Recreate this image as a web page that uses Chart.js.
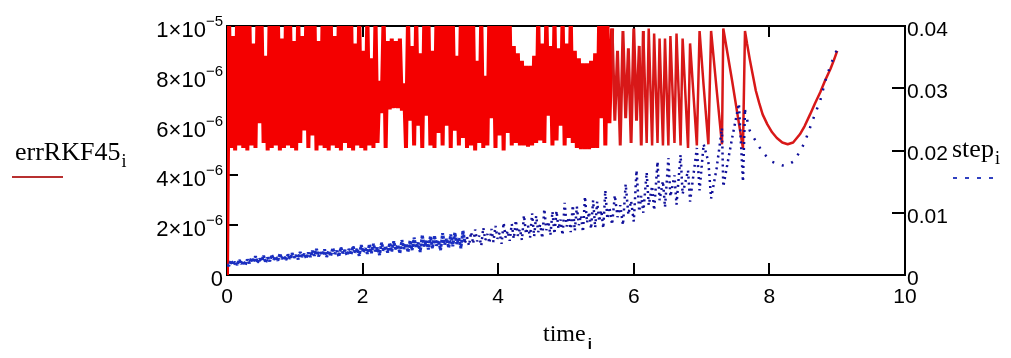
<!DOCTYPE html>
<html><head><meta charset="utf-8">
<script src="https://cdn.jsdelivr.net/npm/chart.js@4.4.1/dist/chart.umd.min.js"></script>
<style>html,body{margin:0;padding:0;background:#fff;overflow:hidden}canvas{display:block}</style>
</head><body><canvas id="c" width="1011" height="358"></canvas>
<script>
// ---- data ----
const timeVals = [0,
0.03,0.06,0.09,0.12,0.15,0.18,0.21,0.24,0.27,0.30,
0.33,0.36,0.39,0.42,0.45,0.48,0.51,0.54,0.57,0.60,
0.63,0.66,0.69,0.72,0.75,0.78,0.81,0.84,0.87,0.90,
0.93,0.96,0.99,1.02,1.05,1.08,1.11,1.14,1.17,1.20,
1.23,1.26,1.29,1.32,1.35,1.38,1.41,1.44,1.47,1.50,
1.53,1.56,1.59,1.62,1.65,1.68,1.71,1.74,1.77,1.80,
1.83,1.86,1.89,1.92,1.95,1.98,2.01,2.04,2.07,2.10,
2.13,2.16,2.19,2.22,2.25,2.28,2.31,2.34,2.37,2.40,
2.43,2.46,2.49,2.52,2.55,2.58,2.61,2.64,2.67,2.70,
2.73,2.76,2.79,2.82,2.85,2.88,2.91,2.94,2.97,3.00,
3.03,3.06,3.09,3.12,3.15,3.18,3.21,3.24,3.27,3.30,
3.33,3.36,3.39,3.42,3.45,3.48,3.51,3.54,3.57,3.60,
3.63,3.66,3.69,3.72,3.75,3.78,3.81,3.84,3.87,3.90,
3.93,3.96,3.99,4.02,4.05,4.08,4.11,4.14,4.17,4.20,
4.23,4.26,4.29,4.32,4.35,4.38,4.41,4.44,4.47,4.50,
4.53,4.56,4.59,4.62,4.65,4.68,4.71,4.74,4.77,4.80,
4.83,4.86,4.89,4.92,4.95,4.98,5.01,5.04,5.07,5.10,
5.13,5.16,5.19,5.22,5.25,5.28,5.31,5.34,5.37,5.40,
5.43,5.46,5.49,5.52,5.55,5.58,5.61,5.64,
5.68,5.72,5.76,5.80,5.84,5.88,5.92,5.96,6.00,6.04,6.08,6.11,
6.14,6.19,6.22,6.27,6.30,6.35,6.38,6.43,6.46,6.51,6.54,6.60,6.63,6.69,6.72,6.80,6.83,6.93,6.97,7.03,7.10,7.14,7.22,7.30,7.32,7.45,7.55,7.61,7.64,
7.67,7.71,7.75,7.80,7.85,7.90,7.97,8.04,8.11,8.19,8.27,8.35,8.45,8.52,8.60,8.67,8.75,8.82,8.90,8.95,9.00];

const errRKF45Vals = [0,
10.4e-6,5.1e-6,9.6e-6,5.0e-6,10.5e-6,5.2e-6,10.3e-6,5.1e-6,10.6e-6,5.0e-6,
10.4e-6,5.2e-6,9.3e-6,5.1e-6,10.5e-6,6.1e-6,10.3e-6,5.3e-6,8.8e-6,5.0e-6,
10.6e-6,5.1e-6,10.2e-6,5.2e-6,10.5e-6,5.0e-6,9.5e-6,5.1e-6,10.4e-6,5.2e-6,
10.3e-6,5.1e-6,9.4e-6,5.0e-6,10.5e-6,5.3e-6,9.6e-6,5.8e-6,10.4e-6,5.1e-6,
10.2e-6,5.6e-6,10.5e-6,5.0e-6,9.4e-6,5.2e-6,10.3e-6,5.1e-6,10.6e-6,5.0e-6,
10.4e-6,5.2e-6,9.6e-6,5.1e-6,10.5e-6,5.0e-6,10.2e-6,5.3e-6,10.4e-6,5.1e-6,
10.6e-6,5.0e-6,9.3e-6,5.2e-6,10.4e-6,5.1e-6,9.0e-6,5.0e-6,10.5e-6,5.2e-6,
8.7e-6,5.1e-6,10.3e-6,5.3e-6,7.8e-6,6.5e-6,10.4e-6,5.1e-6,9.4e-6,6.65e-6,
9.5e-6,6.7e-6,9.4e-6,6.7e-6,9.5e-6,6.6e-6,7.7e-6,5.1e-6,10.3e-6,6.2e-6,
9.2e-6,5.2e-6,10.4e-6,6.0e-6,8.9e-6,5.1e-6,10.3e-6,6.4e-6,10.5e-6,5.2e-6,
9.0e-6,5.1e-6,10.4e-6,5.7e-6,10.2e-6,5.2e-6,10.5e-6,6.0e-6,10.3e-6,5.1e-6,
10.4e-6,5.8e-6,8.8e-6,5.2e-6,10.5e-6,5.5e-6,10.3e-6,5.1e-6,10.4e-6,5.2e-6,
10.2e-6,5.0e-6,8.6e-6,5.3e-6,10.4e-6,5.1e-6,8.0e-6,5.2e-6,10.5e-6,6.3e-6,
10.3e-6,5.1e-6,10.4e-6,5.6e-6,10.5e-6,5.0e-6,10.3e-6,5.7e-6,10.2e-6,5.2e-6,
9.2e-6,5.3e-6,8.9e-6,5.2e-6,8.6e-6,5.2e-6,8.4e-6,5.15e-6,8.4e-6,5.2e-6,
8.8e-6,5.3e-6,10.4e-6,5.4e-6,9.3e-6,5.3e-6,10.5e-6,6.4e-6,9.2e-6,5.2e-6,
10.3e-6,5.4e-6,9.1e-6,6.0e-6,10.4e-6,5.2e-6,9.3e-6,5.5e-6,10.4e-6,5.3e-6,
9.0e-6,5.1e-6,8.7e-6,5.05e-6,8.5e-6,5.05e-6,8.5e-6,5.05e-6,8.6e-6,5.1e-6,
8.9e-6,5.1e-6,10.4e-6,6.3e-6,10.5e-6,5.2e-6,10.3e-6,6.1e-6,
9.9e-6,6.2e-6,9.0e-6,5.2e-6,9.8e-6,6.3e-6,9.1e-6,5.3e-6,9.9e-6,6.2e-6,9.2e-6,5.2e-6,
9.8e-6,5.3e-6,9.9e-6,5.2e-6,9.7e-6,5.3e-6,9.5e-6,5.2e-6,9.5e-6,5.2e-6,9.6e-6,5.3e-6,9.7e-6,5.2e-6,9.5e-6,5.1e-6,9.3e-6,5.2e-6,9.8e-6,7.6e-6,5.25e-6,9.8e-6,7.5e-6,5.25e-6,9.9e-6,7.8e-6,6.1e-6,5.1e-6,9.8e-6,
9.3e-6,8.67e-6,8.1e-6,7.4e-6,6.9e-6,6.45e-6,6.05e-6,5.73e-6,5.5e-6,5.32e-6,5.25e-6,5.32e-6,5.65e-6,5.98e-6,6.45e-6,6.88e-6,7.34e-6,7.8e-6,8.27e-6,8.62e-6,9.0e-6];

const stepVals = [1.6e-3,
1.5e-3,2.3e-3,1.7e-3,2.1e-3,1.6e-3,2.4e-3,1.8e-3,2.2e-3,1.6e-3,2.5e-3,
1.9e-3,2.7e-3,2.1e-3,3.0e-3,2.0e-3,2.6e-3,2.3e-3,3.1e-3,2.0e-3,2.8e-3,
2.2e-3,3.2e-3,2.5e-3,2.9e-3,2.3e-3,3.4e-3,2.6e-3,3.0e-3,2.4e-3,3.3e-3,
2.6e-3,3.5e-3,2.8e-3,3.2e-3,2.5e-3,3.7e-3,2.9e-3,3.4e-3,2.7e-3,3.6e-3,
2.9e-3,3.9e-3,3.1e-3,4.2e-3,3.0e-3,3.6e-3,3.3e-3,4.1e-3,2.9e-3,3.8e-3,
3.1e-3,4.3e-3,3.4e-3,3.9e-3,3.0e-3,4.4e-3,3.5e-3,4.0e-3,3.2e-3,4.2e-3,
3.3e-3,4.6e-3,3.6e-3,4.2e-3,3.1e-3,4.8e-3,3.7e-3,4.3e-3,3.4e-3,4.9e-3,
3.5e-3,5.0e-3,3.8e-3,4.4e-3,3.2e-3,5.2e-3,3.9e-3,4.6e-3,3.6e-3,5.1e-3,
3.8e-3,5.4e-3,4.1e-3,4.8e-3,3.5e-3,5.6e-3,4.2e-3,5.0e-3,3.7e-3,5.5e-3,
4.0e-3,6.0e-3,4.4e-3,5.2e-3,3.7e-3,6.4e-3,4.6e-3,5.5e-3,4.1e-3,6.2e-3,
4.3e-3,6.3e-3,4.7e-3,5.5e-3,4.0e-3,6.7e-3,4.9e-3,5.8e-3,4.4e-3,6.5e-3,
4.6e-3,6.8e-3,5.0e-3,5.9e-3,4.3e-3,7.1e-3,5.2e-3,6.1e-3,4.7e-3,6.9e-3,
5.0e-3,7.3e-3,5.4e-3,6.3e-3,4.7e-3,7.6e-3,5.6e-3,6.6e-3,5.1e-3,7.4e-3,
5.3e-3,7.9e-3,5.8e-3,6.8e-3,5.0e-3,8.4e-3,6.0e-3,7.1e-3,5.5e-3,8.2e-3,
5.8e-3,8.8e-3,6.3e-3,7.4e-3,5.6e-3,9.6e-3,6.6e-3,7.9e-3,6.0e-3,9.9e-3,
6.2e-3,9.5e-3,6.9e-3,8.1e-3,5.9e-3,10.6e-3,7.2e-3,8.6e-3,6.4e-3,10.2e-3,
6.6e-3,10.3e-3,7.4e-3,8.9e-3,6.4e-3,11.6e-3,7.8e-3,9.3e-3,6.9e-3,11.2e-3,
7.1e-3,11.0e-3,8.0e-3,9.6e-3,6.9e-3,12.6e-3,8.4e-3,10.1e-3,7.4e-3,12.0e-3,
7.6e-3,11.8e-3,8.6e-3,10.4e-3,7.5e-3,13.6e-3,9.0e-3,10.9e-3,
8.1e-3,12.8e-3,9.3e-3,11.2e-3,8.0e-3,14.6e-3,9.7e-3,11.9e-3,8.6e-3,16.8e-3,10.2e-3,12.7e-3,
10.0e-3,16.5e-3,11.2e-3,14.3e-3,10.4e-3,18.2e-3,12.0e-3,15.1e-3,10.9e-3,18.8e-3,12.6e-3,16.0e-3,11.3e-3,19.3e-3,13.0e-3,16.8e-3,11.8e-3,20.4e-3,13.6e-3,21.0e-3,18.2e-3,12.3e-3,17.0e-3,23.6e-3,14.2e-3,22.0e-3,27.5e-3,15.0e-3,26.5e-3,
25.0e-3,23.2e-3,22.4e-3,21.5e-3,20.6e-3,19.7e-3,18.9e-3,18.2e-3,17.9e-3,17.6e-3,17.7e-3,18.2e-3,19.8e-3,21.3e-3,23.7e-3,25.8e-3,28.0e-3,31.0e-3,33.7e-3,35.0e-3,36.3e-3];

// axis ticks and labels
const xTickVals = [0, 2, 4, 6, 8, 10];
const leftTickVals = [0, 2e-6, 4e-6, 6e-6, 8e-6, 1e-5];
const leftTickMantissa = ['0', '2', '4', '6', '8', '1'];
const leftTickExponent = ['', '\u22126', '\u22126', '\u22126', '\u22126', '\u22125'];
const rightTickVals = [0, 0.01, 0.02, 0.03, 0.04];
const rightTickLabels = ['0', '0.01', '0.02', '0.03', '0.04'];

const SANS = '"Liberation Sans", Arial, sans-serif';
const SERIF = '"Liberation Serif", "Times New Roman", serif';

const errPts = timeVals.map((t, i) => ({x: t, y: errRKF45Vals[i]}));
const stepPts = timeVals.map((t, i) => ({x: t, y: stepVals[i]}));

const bgPlugin = {
  id: 'bg',
  beforeDraw(c) {
    const ctx = c.ctx;
    ctx.save(); ctx.fillStyle = '#fff'; ctx.fillRect(0, 0, c.width, c.height); ctx.restore();
  }
};

const framePlugin = {
  id: 'frame',
  beforeDatasetsDraw(c) {
    const ctx = c.ctx, a = c.chartArea;
    const xs = c.scales.x, yl = c.scales.y, yr = c.scales.y2;
    ctx.save();
    ctx.strokeStyle = '#000'; ctx.lineWidth = 2;
    ctx.strokeRect(a.left, a.top, a.right - a.left, a.bottom - a.top);
    ctx.beginPath();
    xTickVals.slice(1, -1).forEach(v => {
      const px = Math.round(xs.getPixelForValue(v));
      ctx.moveTo(px, a.bottom); ctx.lineTo(px, a.bottom - 12);
      ctx.moveTo(px, a.top); ctx.lineTo(px, a.top + 11);
    });
    leftTickVals.slice(1, -1).forEach(v => {
      const py = Math.round(yl.getPixelForValue(v));
      ctx.moveTo(a.left, py); ctx.lineTo(a.left + 11, py);
    });
    rightTickVals.slice(1, -1).forEach(v => {
      const py = Math.round(yr.getPixelForValue(v));
      ctx.moveTo(a.right, py); ctx.lineTo(a.right - 13, py);
    });
    ctx.stroke();
    ctx.restore();
  },
  afterDraw(c) {
    const ctx = c.ctx, a = c.chartArea, yl = c.scales.y;
    ctx.save();
    ctx.fillStyle = '#000';
    ctx.textBaseline = 'alphabetic';
    ctx.textAlign = 'left';
    // left axis labels with superscript exponent
    leftTickVals.forEach((v, i) => {
      const py = yl.getPixelForValue(v);
      const base = leftTickMantissa[i] + (leftTickExponent[i] ? '\u00d710' : '');
      const sup = leftTickExponent[i];
      ctx.font = '22px ' + SANS;
      const wb = ctx.measureText(base).width;
      ctx.font = '15px ' + SANS;
      const ws = sup ? ctx.measureText(sup).width : 0;
      const x0 = a.left - 4 - wb - ws;
      ctx.font = '22px ' + SANS;
      ctx.fillText(base, x0, py + 11);
      if (sup) { ctx.font = '15px ' + SANS; ctx.fillText(sup, x0 + wb, py); }
    });
    // left legend
    ctx.font = '26px ' + SERIF;
    ctx.fillText('errRKF45', 15, 160);
    const wE = ctx.measureText('errRKF45').width;
    ctx.font = '18px ' + SERIF;
    ctx.fillText('i', 15 + wE + 1, 167);
    ctx.strokeStyle = '#b83030'; ctx.lineWidth = 2;
    ctx.beginPath(); ctx.moveTo(12, 177); ctx.lineTo(63, 177); ctx.stroke();
    // right legend
    ctx.font = '26px ' + SERIF;
    ctx.fillText('step', 952, 157);
    const wS = ctx.measureText('step').width;
    ctx.font = '18px ' + SERIF;
    ctx.fillText('i', 952 + wS + 1, 164);
    ctx.strokeStyle = '#3040c0'; ctx.lineWidth = 2;
    ctx.beginPath();
    [953, 965, 977, 989].forEach(x => { ctx.moveTo(x, 178); ctx.lineTo(x + 4, 178); });
    ctx.stroke();
    // x axis title
    ctx.font = '24px ' + SERIF;
    ctx.fillText('time', 543, 341);
    const wT = ctx.measureText('time').width;
    ctx.font = 'bold 15px ' + SANS;
    ctx.fillText('i', 543 + wT + 2, 349);
    ctx.restore();
  }
};

new Chart(document.getElementById('c'), {
  type: 'line',
  data: {
    datasets: [
      {
        label: 'step', data: stepPts, yAxisID: 'y2', order: 0,
        borderColor: '#1a2ec0', borderWidth: 2, pointRadius: 0, tension: 0, clip: 0,
        borderJoinStyle: 'bevel',
        segment: {
          borderDash: s => s.p0.parsed.x < 3.5 ? [3, 1] : (s.p0.parsed.x < 7.62 ? [2, 4] : [2, 8]),
          borderWidth: s => s.p0.parsed.x < 3.5 ? 3 : 2.5,
          borderColor: s => s.p0.parsed.x < 3.5 ? '#1a2ec0' : '#10109a'
        }
      },
      {
        label: 'errRKF45', data: errPts, yAxisID: 'y', order: 1,
        borderColor: '#f00000', borderWidth: 2, pointRadius: 0, tension: 0, clip: 0,
        borderJoinStyle: 'bevel',
        segment: {
          borderColor: s => s.p0.parsed.x < 5.66 ? '#f40000' : '#d81818',
          borderWidth: s => s.p0.parsed.x < 5.66 ? 4 : (s.p0.parsed.x < 6.12 ? 3 : 2.5)
        }
      }
    ]
  },
  options: {
    responsive: false, animation: false, devicePixelRatio: 1,
    layout: {padding: {top: 26, left: 0, right: 0, bottom: 0}},
    plugins: {legend: {display: false}, tooltip: {enabled: false}},
    scales: {
      x: {
        type: 'linear', position: 'bottom', min: 0, max: 10,
        afterBuildTicks: s => { s.ticks = xTickVals.map(v => ({value: v})); },
        ticks: {font: {family: SANS, size: 21}, color: '#000', padding: 10, maxRotation: 0, autoSkip: false,
                callback: v => String(v)},
        grid: {display: false, drawTicks: false}, border: {display: false},
        afterFit: s => { s.height = 83; }
      },
      y: {
        type: 'linear', position: 'left', min: 0, max: 1e-5,
        afterBuildTicks: s => { s.ticks = leftTickVals.map(v => ({value: v})); },
        ticks: {display: false},
        grid: {display: false, drawTicks: false}, border: {display: false},
        afterFit: s => { s.width = 227; }
      },
      y2: {
        type: 'linear', position: 'right', min: 0, max: 0.04,
        afterBuildTicks: s => { s.ticks = rightTickVals.map(v => ({value: v})); },
        ticks: {font: {family: SANS, size: 21}, color: '#000', padding: 2, labelOffset: 4, autoSkip: false,
                callback: (v, i) => rightTickLabels[i]},
        grid: {display: false, drawTicks: false}, border: {display: false},
        afterFit: s => { s.width = 106; }
      }
    }
  },
  plugins: [bgPlugin, framePlugin]
});
</script>
</body></html>
